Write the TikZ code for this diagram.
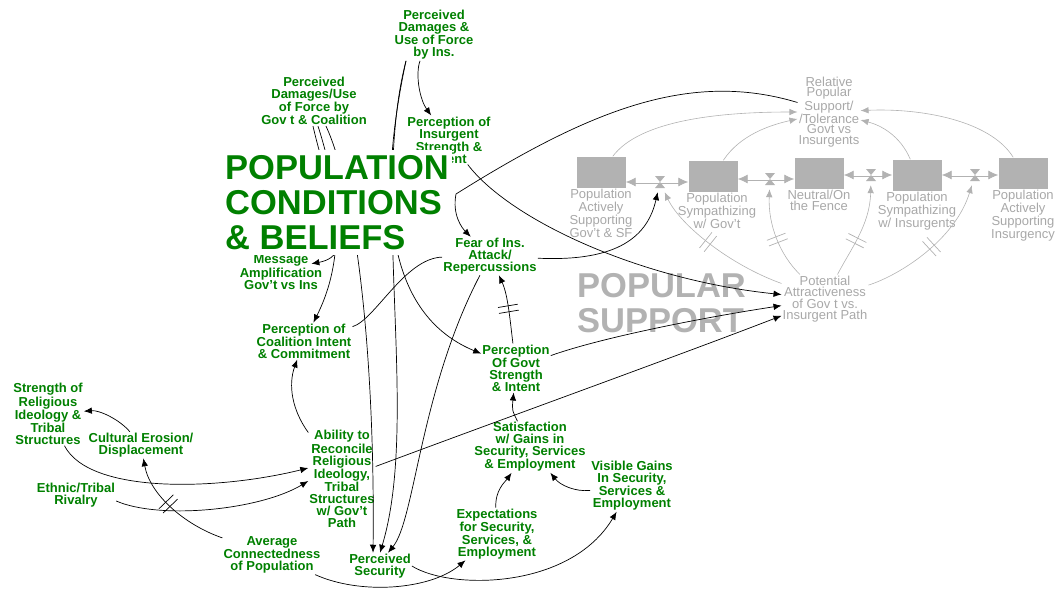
\documentclass[tikz,border=0pt]{standalone}
\usepackage{fontspec}
\setmainfont{Liberation Sans}
\usepackage{tikz}
\usetikzlibrary{arrows.meta,positioning,decorations.markings}
\definecolor{condgreen}{RGB}{0,128,0}
\definecolor{popgray}{RGB}{178,178,178}
\definecolor{poptext}{RGB}{168,168,168}

\begin{document}
\begin{tikzpicture}[x=1pt,y=-1pt,
  var/.style={text=condgreen,font=\fontsize{13}{12}\selectfont\bfseries,align=center,inner sep=1pt},
  poplabel/.style={text=poptext,font=\fontsize{13}{11.5}\selectfont,align=center,inner sep=1pt},
  stock/.style={fill=popgray,minimum width=49pt,minimum height=31pt,inner sep=0pt},
  valve/.style={minimum width=12pt,minimum height=20pt,inner sep=0pt},
  pipe/.style={draw=popgray,line width=0.7pt,double=white,double distance=1.6pt,{Latex[length=10pt,width=9pt]}-{Latex[length=10pt,width=9pt]}},
  link/.style={color=black,line width=0.7pt,-{Latex[length=8pt,width=6.5pt]}},
  glink/.style={color=popgray,line width=0.6pt,-{Latex[length=8pt,width=6.5pt]}},
  lag/.style={postaction={decorate,decoration={markings,mark=at position #1 with {\draw[-,line width=0.7pt] (-3pt,-10pt) -- (-3pt,10pt) (3pt,-10pt) -- (3pt,10pt);}}}},
  headline/.style={anchor=north west,fill=white,align=left,font=\fontsize{34.5}{35}\selectfont\bfseries}]
\useasboundingbox (0,0) rectangle (1058,592);

\node[stock] (box1) at (601,172) {};
\node[stock] (box2) at (713,176) {};
\node[stock] (box3) at (819,173) {};
\node[stock] (box4) at (917,175) {};
\node[stock] (box5) at (1023,173) {};
\node[poplabel,below=0pt of box1] (lbl1) {Population\\Actively\\Supporting\\Gov’t \& SF};
\node[poplabel,below=0pt of box2,xshift=4pt] (lbl2) {Population\\Sympathizing\\w/ Gov't};
\node[poplabel,below=0pt of box3] (lbl3) {Neutral/On\\the Fence};
\node[poplabel,below=0pt of box4] (lbl4) {Population\\Sympathizing\\w/ Insurgents};
\node[poplabel,below=0pt of box5] (lbl5) {Population\\Actively\\Supporting\\Insurgency};
\node[poplabel,font=\fontsize{13}{10.5}\selectfont] (rel) at (829,112) {Relative\\Popular\\Support/\\/Tolerance\\Govt vs\\Insurgents};
\node[poplabel] (pot) at (825,299) {Potential\\Attractiveness\\of Gov t vs.\\Insurgent Path};

\node[valve] (v1) at (660,182) {};
\node[valve] (v2) at (770,179) {};
\node[valve] (v3) at (871,175) {};
\node[valve] (v4) at (975,175) {};
\draw[pipe] (box1.east |- v1) -- (box2.west |- v1);
\draw[pipe] (box2.east |- v2) -- (box3.west |- v2);
\draw[pipe] (box3.east |- v3) -- (box4.west |- v3);
\draw[pipe] (box4.east |- v4) -- (box5.west |- v4);
\fill[popgray] (655,176) -- (665,176) -- (655,188) -- (665,188) -- cycle;
\fill[popgray] (765,173) -- (775,173) -- (765,185) -- (775,185) -- cycle;
\fill[popgray] (866,169) -- (876,169) -- (866,181) -- (876,181) -- cycle;
\fill[popgray] (970,169) -- (980,169) -- (970,181) -- (980,181) -- cycle;

\draw[glink] (box1) .. controls (640,120) and (720,112) .. (rel);
\draw[glink] (box2) .. controls (740,135) and (770,125) .. (rel);
\draw[glink] (box4) .. controls (900,135) and (880,125) .. (rel);
\draw[glink] (box5) .. controls (990,120) and (920,108) .. (rel);
\draw[glink,lag=0.56] (pot) .. controls (730,265) and (680,225) .. (v1);
\draw[glink,lag=0.45] (pot) .. controls (780,255) and (768,225) .. (v2);
\draw[glink,lag=0.4] (pot) .. controls (850,250) and (870,225) .. (v3);
\draw[glink,lag=0.5] (pot) .. controls (900,275) and (955,240) .. (v4);

\node[headline,text=popgray,inner sep=3pt] (popsup) at (574,270) {POPULAR\\SUPPORT};

\node[var] (dmgins) at (434,35) {Perceived\\Damages \&\\Use of Force\\by Ins.};
\node[var] (dmggov) at (314,101) {Perceived\\Damages/Use\\of Force by\\Gov t \& Coalition};
\node[var] (percins) at (449,140) {Perception of\\Insurgent\\Strength \&\\Intent};
\node[var] (msg) at (281,272) {Message\\Amplification\\Gov't vs Ins};
\node[var] (coal) at (304,341) {Perception of\\Coalition Intent\\\& Commitment};
\node[var] (fear) at (490,256) {Fear of Ins.\\Attack/\\Repercussions};
\node[var] (govt) at (516,368) {Perception\\Of Govt\\Strength\\\& Intent};
\node[var] (sat) at (530,447) {Satisfaction\\w/ Gains in\\Security, Services\\\& Employment};
\node[var] (vis) at (632,486) {Visible Gains\\In Security,\\Services \&\\Employment};
\node[var] (exp) at (497,534) {Expectations\\for Security,\\Services, \&\\Employment};
\node[var] (sec) at (380,566) {Perceived\\Security};
\node[var] (abil) at (342,479) {Ability to\\Reconcile\\Religious\\Ideology,\\Tribal\\Structures\\w/ Gov't\\Path};
\node[var] (avg) at (272,555) {Average\\Connectedness\\of Population};
\node[var] (relig) at (48,414) {Strength of\\Religious\\Ideology \&\\Tribal\\Structures};
\node[var] (cult) at (141,445) {Cultural Erosion/\\Displacement};
\node[var] (ethnic) at (76,495) {Ethnic/Tribal\\Rivalry};
\coordinate (kink) at (456,194);

\draw[link] ([xshift=-14pt]dmgins.south) .. controls (415,75) and (420,100) .. (percins);
\draw[link] ([xshift=-28pt]dmgins.south) .. controls (370,200) and (420,420) .. (sec.north);
\draw[link] ([xshift=-28pt]dmgins.south) .. controls (370,230) and (400,320) .. (govt);
\draw[link] ([xshift=-1pt]dmggov.south) .. controls (330,200) and (360,255) .. ([shift={(-12pt,-10pt)}]msg.north east);
\draw[link] ([xshift=4pt]dmggov.south) .. controls (345,210) and (340,270) .. (coal);
\draw[link] ([xshift=12pt]dmggov.south) .. controls (360,200) and (375,380) .. ([xshift=-7pt]sec.north);
\draw[link] (rel) .. controls (690,70) and (590,110) .. (kink) .. controls (452,215) and (462,228) .. (fear);
\draw[link] (fear) .. controls (620,262) and (648,235) .. (v1);
\draw[link] (percins) .. controls (510,220) and (640,280) .. (pot);
\draw[link] (govt) .. controls (600,338) and (700,318) .. (pot);
\draw[link] (abil) .. controls (500,420) and (680,355) .. (pot);
\draw[color=black,line width=0.7pt] (coal) .. controls (375,320) and (405,258) .. (fear);
\draw[link] (fear) .. controls (420,390) and (415,520) .. ([xshift=8pt]sec.north);
\draw[link,lag=0.5] (govt) .. controls (510,320) and (508,295) .. (fear);
\draw[link] (sat) .. controls (512,410) .. (govt);
\draw[link] (exp) .. controls (495,490) and (505,482) .. (sat);
\draw[link] (vis) .. controls (575,492) and (560,485) .. (sat);
\draw[link] (sec.east) .. controls (450,590) and (570,590) .. (vis);
\draw[link] (avg) .. controls (360,595) and (430,590) .. (exp);
\draw[link,lag=0.55] (avg) .. controls (185,525) and (150,495) .. (cult);
\draw[link] (cult) .. controls (120,420) and (100,410) .. (relig);
\draw[link] (relig) .. controls (90,495) and (220,490) .. ([yshift=11pt]abil.west);
\draw[link] ([yshift=-6pt]ethnic.east) .. controls (160,520) and (260,510) .. ([yshift=-2pt]abil.west);
\draw[link] (abil) .. controls (292,410) and (288,385) .. (coal);

\node[headline,text=condgreen,inner xsep=3pt,inner ysep=5pt] (title) at (222,150) {POPULATION\\CONDITIONS\\\& BELIEFS};
\end{tikzpicture}
\end{document}
